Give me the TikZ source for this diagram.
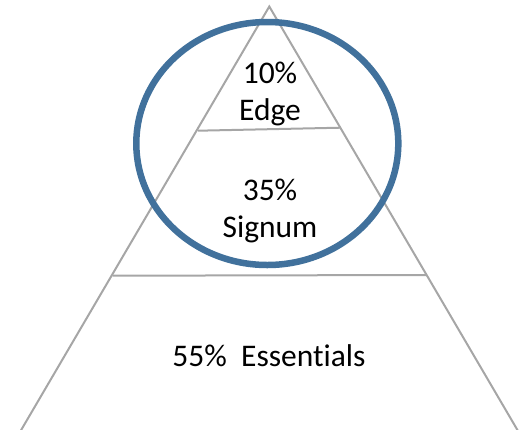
\documentclass[tikz,border=0pt]{standalone}
\usepackage{fontspec}
\setmainfont{Carlito}[Ligatures=NoCommon]
\definecolor{ringblue}{HTML}{41719C}
\definecolor{edgegray}{HTML}{A6A6A6}
\begin{document}
\begin{tikzpicture}[x=1pt,y=-1pt,
  pyr/.style={draw=edgegray,line width=2pt},
  lbl/.style={anchor=base,inner sep=0pt,font=\fontsize{31.5}{37}\selectfont,text=black},
  ring/.style={draw=ringblue,line width=6.5pt}]
\useasboundingbox (0,0) rectangle (519,429);
\begin{scope}
\clip (0,0) rectangle (519,429);
\coordinate (apex) at (269.3,6.5);
\coordinate (bl) at (10.9,447.5);
\coordinate (br) at (527.7,447.5);
\draw[pyr,line join=miter] (bl) -- (apex) -- (br);
\coordinate (l1a) at (198,130.7);
\coordinate (l1b) at (340.7,127.7);
\draw[pyr] (l1a) -- (l1b);
\coordinate (l2a) at (112.7,275.7);
\coordinate (l2b) at (426,275);
\draw[pyr] (l2a) -- (l2b);
\draw[ring] (267.3,143.5) ellipse [x radius=131, y radius=121.5];
\end{scope}
\node[lbl] (t10) at (270,83.3) {10\%};
\node[lbl] (tedge) at (270,120.7) {Edge};
\node[lbl] (t35) at (270,200) {35\%};
\node[lbl] (tsig) at (270,237) {Signum};
\node[lbl] (t55) at (269,366) {55\%\ \ Essentials};
\end{tikzpicture}
\end{document}
